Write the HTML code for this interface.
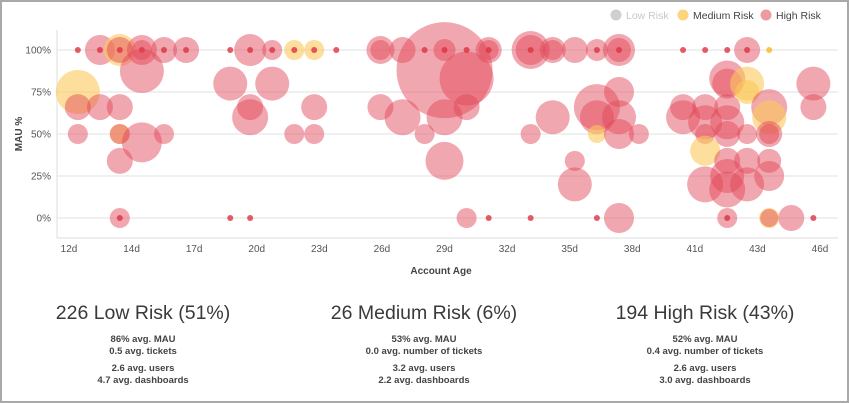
<!DOCTYPE html>
<html><head><meta charset="utf-8"><style>
html,body{margin:0;padding:0;background:#fff;}
body{width:849px;height:403px;overflow:hidden;font-family:"Liberation Sans Narrow","Liberation Sans",sans-serif;}
#frame{position:absolute;left:0;top:0;width:845px;height:399px;border:2px solid #a9a9a9;}
.sum{position:absolute;top:300px;width:260px;text-align:center;color:#444;}
.sum h2{margin:0;font-weight:normal;font-size:19.5px;line-height:26px;color:#3a3a3a;}
.sum p{margin:0;font-size:9.5px;font-weight:bold;line-height:12px;color:#444;}
.sum .g{margin-top:8px;}
</style></head><body>
<div id="frame"></div>
<svg id="chart" width="849" height="290" style="position:absolute;left:0;top:0"></svg>
<div class="sum" style="left:13px">
<h2>226 Low Risk (51%)</h2>
<div class="g"><p>86% avg. MAU</p><p>0.5 avg. tickets</p></div>
<div class="g" style="margin-top:5px"><p>2.6 avg. users</p><p>4.7 avg. dashboards</p></div>
</div>
<div class="sum" style="left:294px">
<h2>26 Medium Risk (6%)</h2>
<div class="g"><p>53% avg. MAU</p><p>0.0 avg. number of tickets</p></div>
<div class="g" style="margin-top:5px"><p>3.2 avg. users</p><p>2.2 avg. dashboards</p></div>
</div>
<div class="sum" style="left:575px">
<h2>194 High Risk (43%)</h2>
<div class="g"><p>52% avg. MAU</p><p>0.4 avg. number of tickets</p></div>
<div class="g" style="margin-top:5px"><p>2.6 avg. users</p><p>3.0 avg. dashboards</p></div>
</div>
<script>
const xTickLabels=["12d","14d","17d","20d","23d","26d","29d","32d","35d","38d","41d","43d","46d"];
const yTickValues=[0,25,50,75,100];
const ages=[
12.4,13.4,13.4,14.3,14.3,14.3,15.3,15.3,15.3,16.3,16.3,17.3,17.3,19.3,20.2,20.2,21.2,21.2,22.2,22.2,23.1,23.1,24.1,26.1,26.1,27.1,
12.4,12.4,13.4,14.3,12.4,14.3,14.3,15.3,15.3,14.3,16.3,14.3,14.3,19.3,21.2,20.2,20.2,22.2,23.1,23.1,19.3,20.2,26.1,27.1,
29.0,30.0,28.1,29.0,29.0,30.0,31.0,31.0,31.0,30.0,29.0,28.1,29.0,30.0,31.0,
32.9,32.9,32.9,33.9,33.9,34.9,35.9,35.9,36.9,36.9,36.9,32.9,33.9,35.9,35.9,36.9,36.9,35.9,36.9,37.8,34.9,34.9,32.9,35.9,36.9,
39.8,40.8,41.8,42.7,42.7,43.7,41.8,41.8,42.7,42.7,41.8,39.8,39.8,40.8,40.8,40.8,41.8,41.8,42.7,43.7,43.7,43.7,43.7,40.8,41.8,42.7,43.7,40.8,41.8,41.8,42.7,43.7,41.8,41.8,43.7,44.7,45.7,45.7,45.7,43.7];
const mau=[
100,100,100,100,100,100,100,100,100,100,100,100,100,100,100,100,100,100,100,100,100,100,100,100,100,100,
75,66,66,66,50,50,50,87.5,45,34,50,0,0,80,80,66,60,50,50,66,0,0,66,60,
88,83,100,100,100,100,100,100,100,66,60,50,34,0,0,
100,100,100,100,100,100,100,100,100,100,100,50,60,66,60,75,60,50,50,50,34,20,0,0,0,
100,100,100,100,100,100,83,80,80,75,66,66,60,66,57,50,57,50,50,66,60,50,50,40,34,34,34,20,25,17,20,25,0,0,0,0,0,80,66,0];
const sizes=[
3,15,3,16,13,3,15,10,3,13,3,13,3,3,16,3,10,3,10,3,10,3,3,14,10,13,
22,13,13,13,10,10,10,22,20,13,10,10,3,17,17,13,18,10,10,13,3,3,13,18,
48,27,3,11,3,3,13,10,3,13,18,10,19,10,3,
19,15,3,13,10,13,11,3,16,12,3,10,17,23,17,15,17,9,15,10,10,17,3,3,15,
3,3,3,13,3,3,18,15,17,12,13,13,17,13,17,10,17,13,10,18,17,10,13,15,13,13,12,18,17,18,17,15,10,3,10,13,3,17,13,9];
const risk=[
"H","H","H","M","H","H","H","H","H","H","H","H","H","H","H","H","H","H","M","H","M","H","H","H","H","H",
"M","H","H","H","H","M","H","H","H","H","H","H","H","H","H","H","H","H","H","H","H","H","H","H",
"H","H","H","H","H","H","H","H","H","H","H","H","H","H","H",
"H","H","H","H","H","H","H","H","H","H","H","H","H","H","H","H","H","M","H","H","H","H","H","H","H",
"H","H","H","H","H","M","H","H","M","M","H","H","H","H","H","H","H","H","H","H","M","H","H","M","H","H","H","H","H","H","H","H","H","H","M","H","H","H","H","H"];
const NS="http://www.w3.org/2000/svg";
const svg=document.getElementById('chart');
const x=d=>69+(d-12)*(820-69)/34;
const y=v=>218-v*1.68;
function mk(t,a){const e=document.createElementNS(NS,t);for(const k in a)e.setAttribute(k,a[k]);svg.appendChild(e);return e;}
yTickValues.forEach(v=>{
 const g=mk('line',{x1:57,x2:838,y1:y(v),y2:y(v),stroke:'#ececec','stroke-width':1.5});
 
 
 const t=mk('text',{x:51,y:y(v)+3.5,'text-anchor':'end','font-size':10,fill:'#555','font-family':'Liberation Sans, sans-serif'});
 t.textContent=v+'%';
 
 
});
const ax=mk('line',{x1:57,x2:838,y1:238,y2:238,stroke:'#ddd'});


const ay=mk('line',{x1:57,x2:57,y1:30,y2:238,stroke:'#ddd'});


xTickLabels.forEach((l,i)=>{
 const px=69+i*(820-69)/(xTickLabels.length-1);
 const t=mk('text',{x:px,y:252,'text-anchor':'middle','font-size':10,fill:'#555','font-family':'Liberation Sans, sans-serif'});
 t.textContent=l;
 
 
});
const xt=mk('text',{x:441,y:274,'text-anchor':'middle','font-size':10,'font-weight':'bold',fill:'#444','font-family':'Liberation Sans, sans-serif'});
xt.textContent='Account Age';


const yt=mk('text',{x:0,y:0,'text-anchor':'middle','font-size':10,'font-weight':'bold',fill:'#444','font-family':'Liberation Sans, sans-serif',transform:'translate(22,134) rotate(-90)'});
yt.textContent='MAU %';


const fill={H:'rgba(226,72,88,0.48)',M:'rgba(252,200,90,0.6)',L:'rgba(180,180,180,0.6)'};
const dot={H:'rgba(222,50,65,0.8)',M:'rgba(250,190,60,0.9)',L:'#bbb'};
ages.forEach((a,i)=>{
 const r=sizes[i];
 const c=mk('circle',{cx:x(a),cy:y(mau[i]),r:r,fill:r<=3?dot[risk[i]]:fill[risk[i]]});
 
 
});
[['Low Risk','#cfcfcf','#c8c8c8',616],['Medium Risk','rgba(252,205,100,0.85)','#444',683],['High Risk','rgba(232,120,130,0.75)','#444',766]].forEach(l=>{
 const c=mk('circle',{cx:l[3],cy:15,r:5.5,fill:l[1]});
 
 
 const t=mk('text',{x:l[3]+10,y:19,'font-size':10.5,fill:l[2],'font-family':'Liberation Sans, sans-serif'});
 t.textContent=l[0];
 
 
});
</script>
</body></html>
